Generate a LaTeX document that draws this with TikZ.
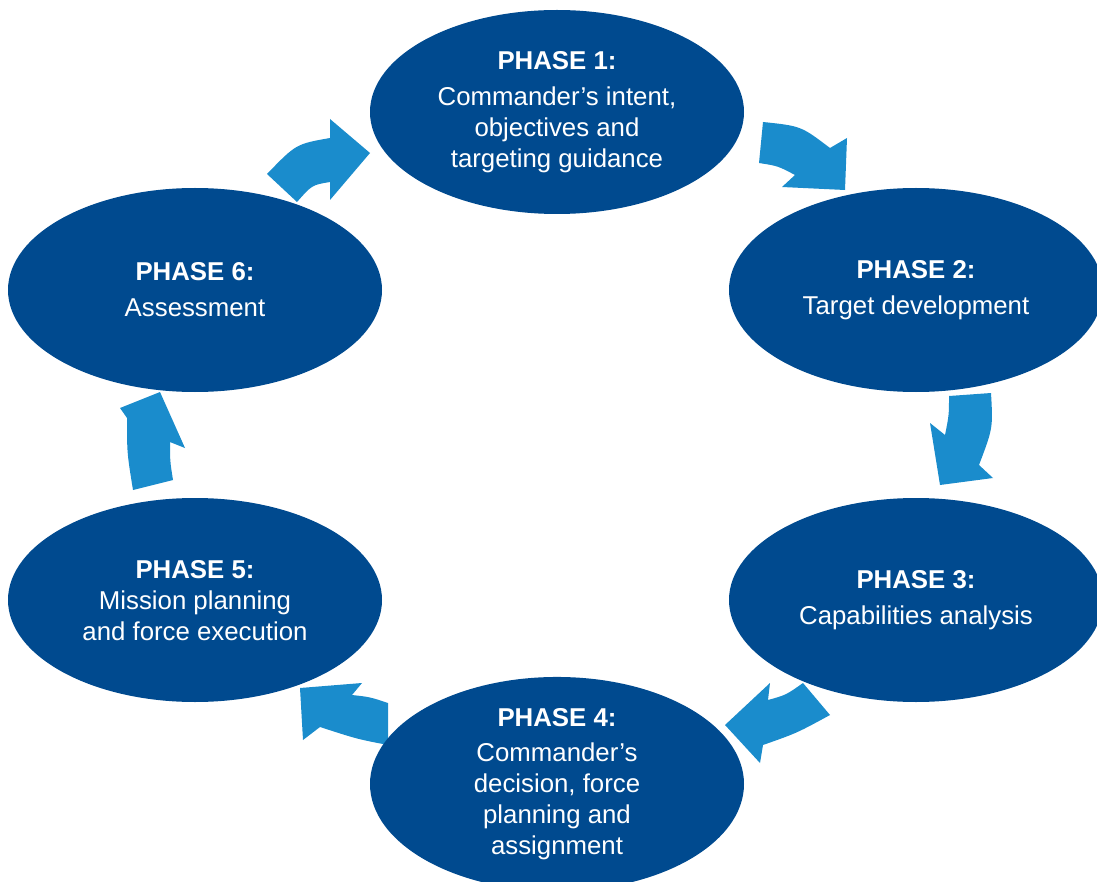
\documentclass[tikz,border=0pt]{standalone}
\usepackage{fontspec}
\setmainfont{Liberation Sans}
\usetikzlibrary{shapes.geometric}
\definecolor{phaseblue}{RGB}{0,74,143}
\definecolor{cycleblue}{RGB}{26,140,204}
\tikzset{phase/.style={ellipse, fill=phaseblue, text=white, minimum width=374pt, minimum height=204pt, inner sep=0pt, align=center, font=\fontsize{25.8}{31}\selectfont},
         cyc/.style={fill=cycleblue}}

\begin{document}
\begin{tikzpicture}[x=1pt, y=-1pt]
    \useasboundingbox (0,0) rectangle (1097,882);
    % arrows between the phases
    \fill[cyc] (267,174) .. controls (296,144) .. (330,138) -- (330,119) -- (370,153) -- (330,200) -- (330,182) .. controls (312,185) .. (297,202) -- cycle;
    \fill[cyc] (763,122) .. controls (801,126) .. (830,148) -- (847,138) -- (845,190) -- (782,187) -- (795,175) .. controls (778,166) .. (759,163) -- cycle;
    \fill[cyc] (949,396) -- (991,393) .. controls (993,428) .. (979,465) -- (993,478) -- (940,485) -- (930,423) -- (945,435) .. controls (949,415) .. (949,396) -- cycle;
    \fill[cyc] (803,683) -- (830,715) .. controls (797,733) .. (763,745) -- (760,763) -- (725,725) -- (770,683) -- (768,700) .. controls (786,695) .. (803,683) -- cycle;
    \fill[cyc] (388,703) -- (388,745) .. controls (357,739) .. (320,727) -- (303,740) -- (300,688) -- (362,683) -- (352,695) .. controls (370,697) .. (388,703) -- cycle;
    \fill[cyc] (173,480) -- (133,490) .. controls (127,453) .. (127,418) -- (120,408) -- (160,392) -- (185,448) -- (170,442) .. controls (170,461) .. (173,480) -- cycle;
    % phases
    \node[phase] (p1) at (557,112) {\textbf{PHASE 1:}\\[5pt]Commander's intent,\\objectives and\\targeting guidance};
    \node[phase] (p2) at (916,290) {\textbf{PHASE 2:}\\[5pt]Target development};
    \node[phase] (p3) at (916,600) {\textbf{PHASE 3:}\\[5pt]Capabilities analysis};
    \node[phase] (p4) at (557,784) {\textbf{PHASE 4:}\\[4pt]Commander's\\decision, force\\planning and\\assignment};
    \node[phase] (p5) at (195,600) {\mbox{}\\[-12pt]\textbf{PHASE 5:}\\Mission planning\\and force execution};
    \node[phase] (p6) at (195,290) {\textbf{PHASE 6:}\\[5pt]Assessment};
\end{tikzpicture}
\end{document}
